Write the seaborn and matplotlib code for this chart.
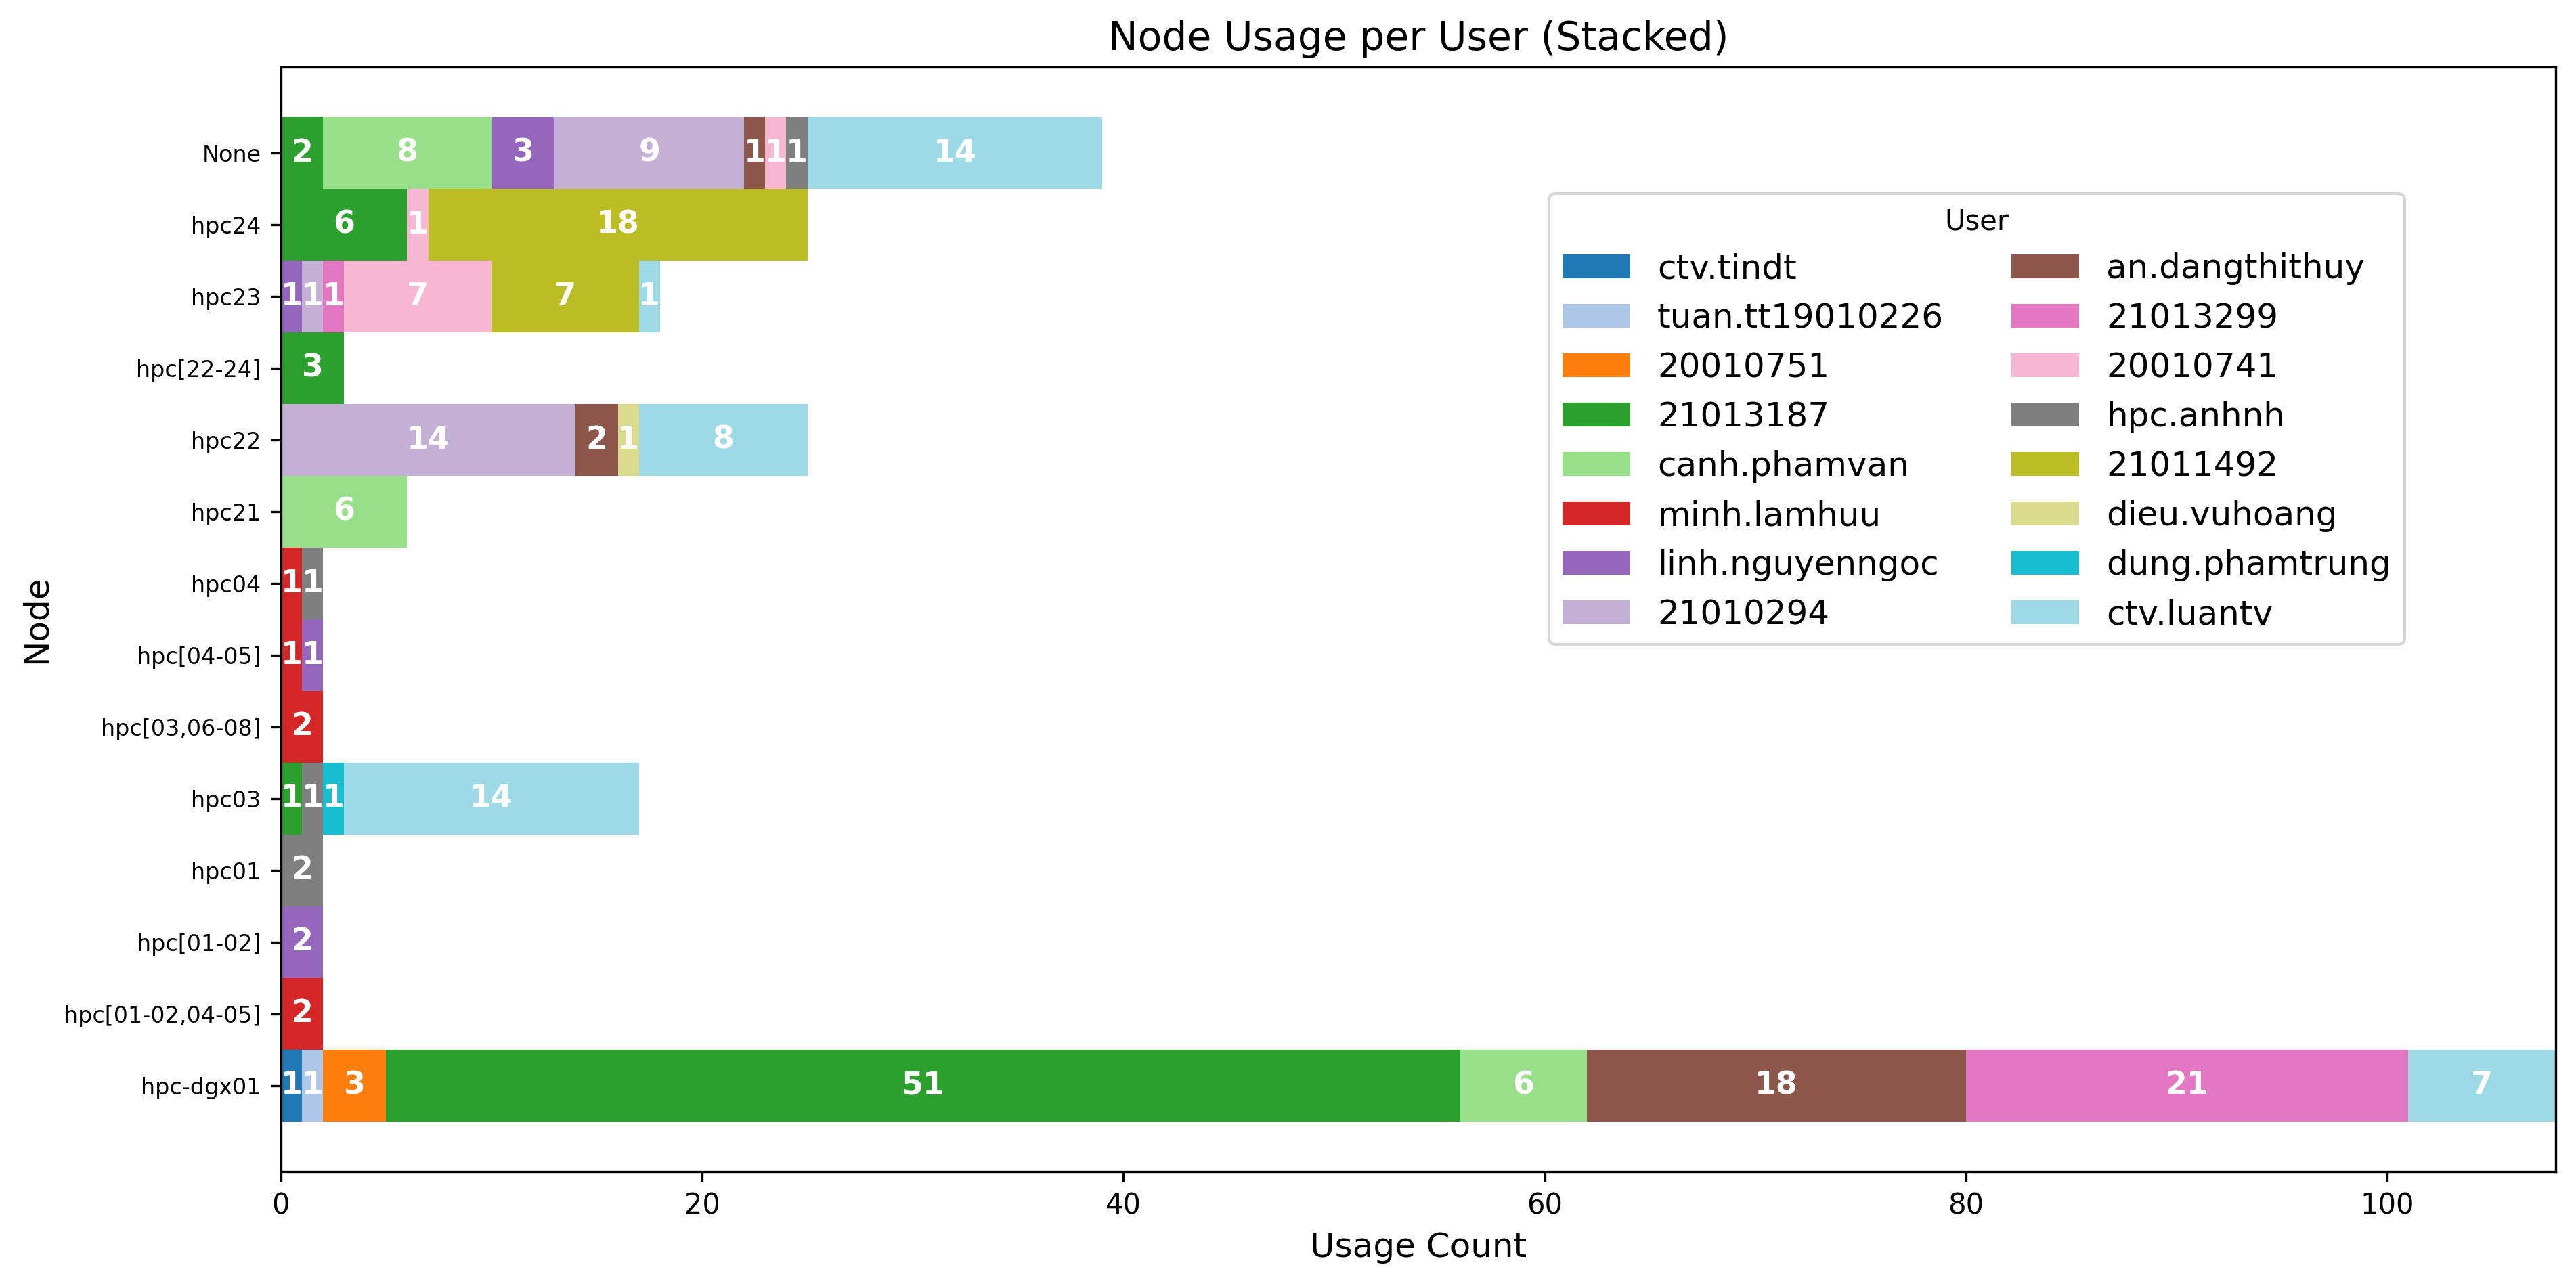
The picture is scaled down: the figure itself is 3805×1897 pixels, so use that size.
import numpy as np
import pandas as pd
import matplotlib
matplotlib.use("Agg")
import matplotlib.pyplot as plt
from matplotlib.patches import Patch
import seaborn as sns

# nodes, top to bottom
nodes = ["None", "hpc24", "hpc23", "hpc[22-24]", "hpc22", "hpc21", "hpc04",
         "hpc[04-05]", "hpc[03,06-08]", "hpc03", "hpc01", "hpc[01-02]",
         "hpc[01-02,04-05]", "hpc-dgx01"]

users = ["ctv.tindt", "tuan.tt19010226", "20010751", "21013187", "canh.phamvan",
         "minh.lamhuu", "linh.nguyenngoc", "21010294", "an.dangthithuy", "21013299",
         "20010741", "hpc.anhnh", "21011492", "dieu.vuhoang", "dung.phamtrung",
         "ctv.luantv"]

# usage count per user, aligned with nodes
ctv_tindt       = [0, 0, 0, 0, 0, 0, 0, 0, 0, 0, 0, 0, 0, 1]
tuan_tt19010226 = [0, 0, 0, 0, 0, 0, 0, 0, 0, 0, 0, 0, 0, 1]
u20010751       = [0, 0, 0, 0, 0, 0, 0, 0, 0, 0, 0, 0, 0, 3]
u21013187       = [2, 6, 0, 3, 0, 0, 0, 0, 0, 1, 0, 0, 0, 51]
canh_phamvan    = [8, 0, 0, 0, 0, 6, 0, 0, 0, 0, 0, 0, 0, 6]
minh_lamhuu     = [0, 0, 0, 0, 0, 0, 1, 1, 2, 0, 0, 0, 2, 0]
linh_nguyenngoc = [3, 0, 1, 0, 0, 0, 0, 1, 0, 0, 0, 2, 0, 0]
u21010294       = [9, 0, 1, 0, 14, 0, 0, 0, 0, 0, 0, 0, 0, 0]
an_dangthithuy  = [1, 0, 0, 0, 2, 0, 0, 0, 0, 0, 0, 0, 0, 18]
u21013299       = [0, 0, 1, 0, 0, 0, 0, 0, 0, 0, 0, 0, 0, 21]
u20010741       = [1, 1, 7, 0, 0, 0, 0, 0, 0, 0, 0, 0, 0, 0]
hpc_anhnh       = [1, 0, 0, 0, 0, 0, 1, 0, 0, 1, 2, 0, 0, 0]
u21011492       = [0, 18, 7, 0, 0, 0, 0, 0, 0, 0, 0, 0, 0, 0]
dieu_vuhoang    = [0, 0, 0, 0, 1, 0, 0, 0, 0, 0, 0, 0, 0, 0]
dung_phamtrung  = [0, 0, 0, 0, 0, 0, 0, 0, 0, 1, 0, 0, 0, 0]
ctv_luantv      = [14, 0, 1, 0, 8, 0, 0, 0, 0, 14, 0, 0, 0, 7]

df = pd.DataFrame(
    np.array([ctv_tindt, tuan_tt19010226, u20010751, u21013187, canh_phamvan,
              minh_lamhuu, linh_nguyenngoc, u21010294, an_dangthithuy, u21013299,
              u20010741, hpc_anhnh, u21011492, dieu_vuhoang, dung_phamtrung,
              ctv_luantv]).T,
    index=nodes, columns=users)
cum = df.cumsum(axis=1)

# tab20 sampled evenly, one colour per user
colors = sns.color_palette(plt.get_cmap("tab20")(np.linspace(0, 1, len(users))))

fig, ax = plt.subplots(figsize=(3805 / 300, 1897 / 300), dpi=300)
fig.subplots_adjust(left=0.109, right=0.9921, bottom=0.0875, top=0.9478)

# stacked bars: draw cumulative totals from the last user down to the first
for k in range(len(users) - 1, -1, -1):
    layer = pd.DataFrame({"Node": nodes, "Count": cum[users[k]].values})
    sns.barplot(data=layer, x="Count", y="Node", order=nodes, orient="h",
                color=colors[k], saturation=1, errorbar=None, width=1,
                linewidth=0, ax=ax)

# segment labels
for i, node in enumerate(nodes):
    for user in users:
        val = df.loc[node, user]
        if val > 0:
            ax.text(cum.loc[node, user] - val / 2, i, str(val), ha="center",
                    va="center", color="white", fontsize=11, fontweight="bold")

ax.set_xlim(0, cum.iloc[:, -1].max())
ax.set_ylim(len(nodes) - 1 + 1.2, -1.2)
ax.tick_params(axis="y", labelsize=8)
ax.tick_params(axis="x", labelsize=10)
ax.set_xlabel("Usage Count", fontsize=12)
ax.set_ylabel("Node", fontsize=12)
ax.set_title("Node Usage per User (Stacked)", fontsize=14)

handles = [Patch(facecolor=colors[k], label=users[k]) for k in range(len(users))]
ax.legend(handles=handles, title="User", ncol=2, fontsize=12,
          loc="upper left", bbox_to_anchor=(0.5575, 0.8854), borderaxespad=0)

fig.savefig("out.png", dpi=300)
